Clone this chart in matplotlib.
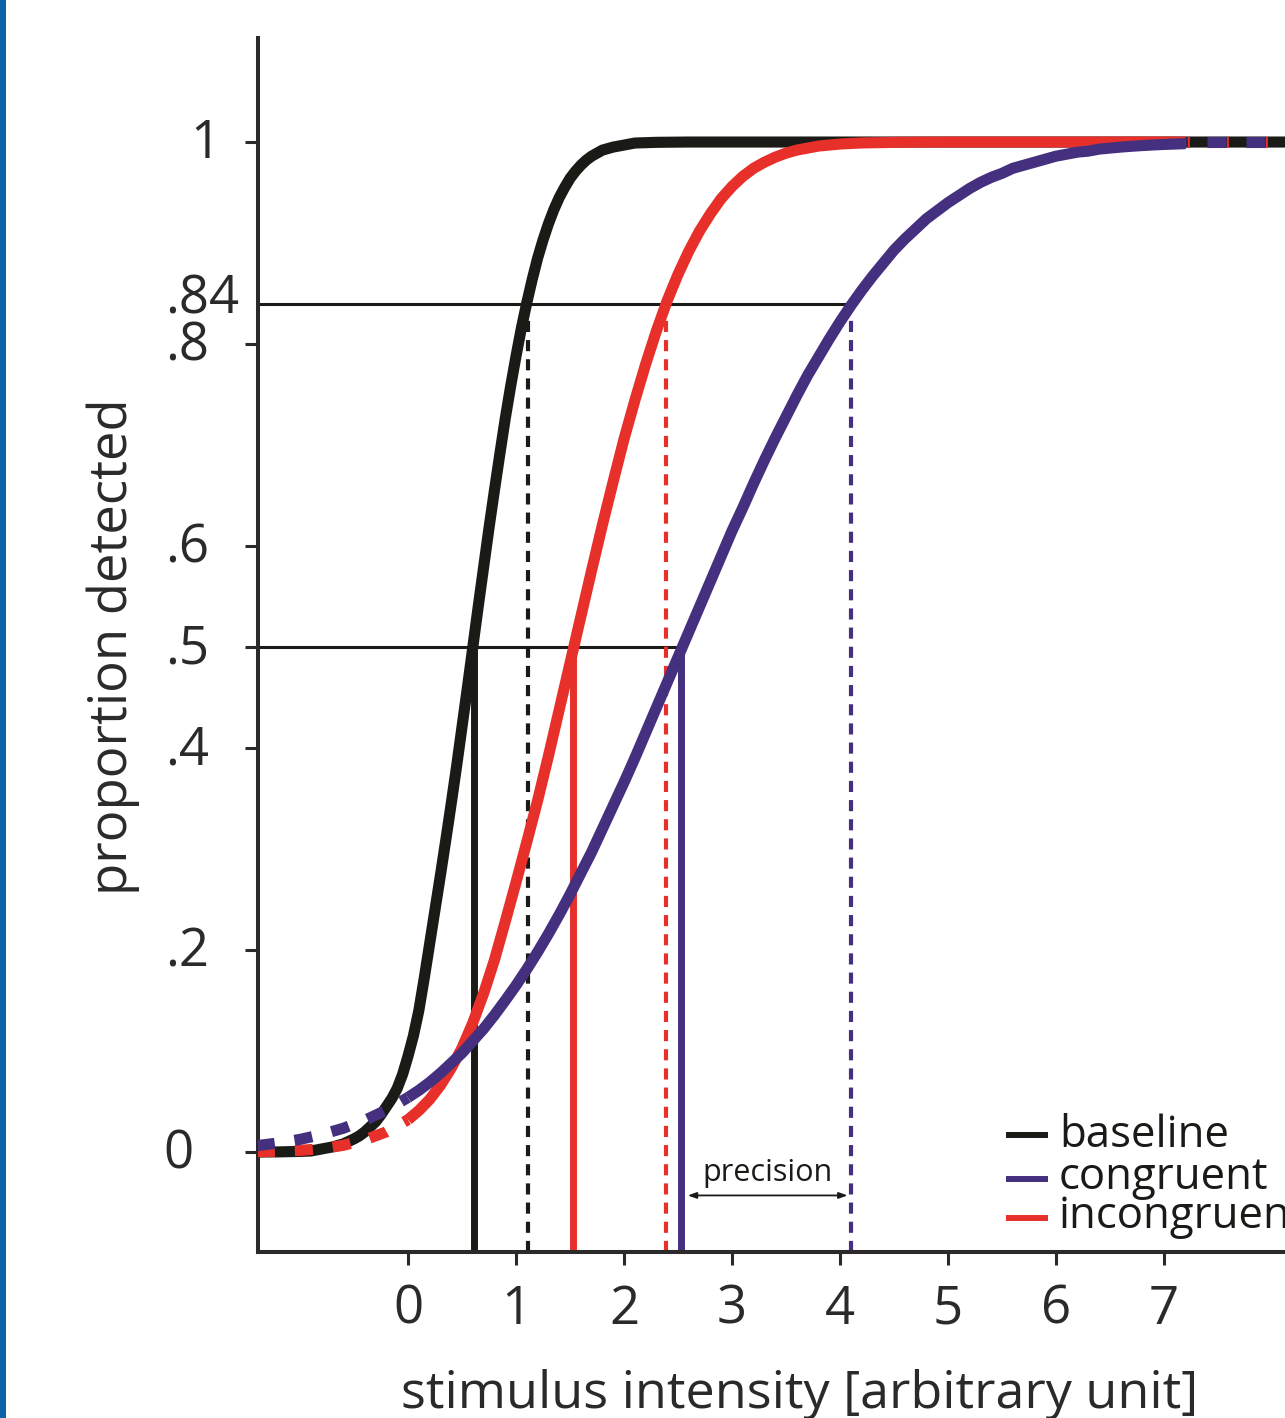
import matplotlib.pyplot as plt
from matplotlib.lines import Line2D
from matplotlib.patches import Rectangle

plt.rcParams['font.family'] = ['Open Sans', 'DejaVu Sans']
plt.rcParams['lines.scale_dashes'] = False

# Psychometric curves
black_x = [-1.4, -1.2, -1.0, -0.9, -0.8, -0.7, -0.6, -0.5, -0.45, -0.4, -0.35,
           -0.3, -0.25, -0.2, -0.15, -0.1, -0.05, 0.0, 0.05, 0.1, 0.15, 0.2,
           0.25, 0.3, 0.35, 0.4, 0.45, 0.5, 0.55, 0.6, 0.65, 0.7, 0.75, 0.8,
           0.85, 0.9, 0.95, 1.0, 1.05, 1.1, 1.15, 1.2, 1.25, 1.3, 1.35, 1.4,
           1.45, 1.5, 1.55, 1.6, 1.65, 1.7, 1.75, 1.8, 1.9, 2.0, 2.1, 2.3,
           2.6, 8.3]
black_y = [0.0, 0.0001, 0.0006, 0.001, 0.003, 0.005, 0.008, 0.013, 0.016,
           0.020, 0.025, 0.030, 0.037, 0.045, 0.053, 0.063, 0.077, 0.095,
           0.115, 0.140, 0.172, 0.206, 0.240, 0.274, 0.309, 0.345, 0.382,
           0.421, 0.460, 0.500, 0.540, 0.579, 0.618, 0.655, 0.691, 0.726,
           0.758, 0.788, 0.816, 0.841, 0.864, 0.885, 0.903, 0.919, 0.933,
           0.945, 0.955, 0.964, 0.971, 0.977, 0.982, 0.986, 0.989, 0.992,
           0.995, 0.997, 0.999, 0.9997, 1.0, 1.0]

red_dash_x = [-1.4, -1.2, -1.0, -0.8, -0.6, -0.4, -0.2, 0.0]
red_dash_y = [0.0003, 0.0007, 0.0016, 0.0033, 0.0066, 0.012, 0.020, 0.032]
red_x = [0.0, 0.1, 0.2, 0.3, 0.4, 0.5, 0.6, 0.7, 0.8, 0.9, 1.0, 1.1, 1.2,
         1.3, 1.4, 1.5, 1.6, 1.7, 1.8, 1.9, 2.0, 2.1, 2.2, 2.3, 2.4, 2.5,
         2.6, 2.7, 2.8, 2.9, 3.0, 3.1, 3.2, 3.3, 3.4, 3.5, 3.6, 3.7, 3.8,
         3.9, 4.0, 4.2, 4.6, 5.0, 7.2]
red_y = [0.032, 0.041, 0.052, 0.066, 0.083, 0.103, 0.128, 0.157, 0.190,
         0.228, 0.267, 0.307, 0.348, 0.392, 0.438, 0.484, 0.530, 0.576,
         0.621, 0.664, 0.706, 0.744, 0.780, 0.813, 0.843, 0.869, 0.892,
         0.912, 0.929, 0.944, 0.956, 0.966, 0.974, 0.980, 0.985, 0.989,
         0.992, 0.994, 0.996, 0.997, 0.998, 0.9991, 0.9998, 1.0, 1.0]

blue_dash_x = [-1.4, -1.2, -1.0, -0.8, -0.6, -0.4, -0.2, 0.0]
blue_dash_y = [0.0063, 0.009, 0.0125, 0.0173, 0.0235, 0.0314, 0.0415, 0.054]
blue_x = [0.0, 0.1, 0.2, 0.3, 0.4, 0.5, 0.6, 0.7, 0.8, 0.9, 1.0, 1.1, 1.2,
          1.3, 1.4, 1.5, 1.6, 1.7, 1.8, 1.9, 2.0, 2.1, 2.2, 2.3, 2.4, 2.5,
          2.6, 2.7, 2.8, 2.9, 3.0, 3.1, 3.2, 3.3, 3.4, 3.5, 3.6, 3.7, 3.8,
          3.9, 4.0, 4.1, 4.2, 4.3, 4.4, 4.5, 4.6, 4.7, 4.8, 4.9, 5.0, 5.1,
          5.2, 5.3, 5.4, 5.5, 5.6, 5.7, 5.8, 5.9, 6.0, 6.1, 6.2, 6.3, 6.4,
          6.5, 6.6, 6.7, 6.8, 6.9, 7.0, 7.1, 7.2]
blue_y = [0.054, 0.061, 0.069, 0.078, 0.088, 0.098, 0.110, 0.122, 0.1355,
          0.150, 0.165, 0.181, 0.198, 0.216, 0.235, 0.255, 0.276, 0.297,
          0.320, 0.343, 0.366, 0.390, 0.415, 0.440, 0.465, 0.490, 0.515,
          0.540, 0.565, 0.590, 0.615, 0.638, 0.662, 0.685, 0.707, 0.728,
          0.749, 0.769, 0.787, 0.805, 0.822, 0.838, 0.853, 0.867, 0.880,
          0.893, 0.904, 0.914, 0.924, 0.932, 0.940, 0.947, 0.954, 0.960,
          0.965, 0.969, 0.974, 0.977, 0.980, 0.983, 0.986, 0.988, 0.990,
          0.991, 0.993, 0.994, 0.995, 0.9958, 0.9965, 0.9971, 0.9976,
          0.998, 0.9984]
tail_x = [7.2, 8.3]
tail_y = [1.0, 1.0]

# thresholds (50%) and 84% points
thresh_50 = [0.61, 1.53, 2.53]
thresh_84 = [1.11, 2.39, 4.10]
ref_levels = [0.5, 0.84]
ref_ends = [2.53, 4.10]

yticks = [0, 0.2, 0.4, 0.5, 0.6, 0.8, 0.84, 1]
ytick_labels = ['0', '.2', '.4', '.5', '.6', '.8', '.84', '1']
ytick_label_px = [163, 165, 165, 165, 165, 165, 165, 190]
ytick_label_dy = [0.004, 0.004, 0.004, 0.004, 0.004, 0.004, 0.010, 0.004]
xticks = [0, 1, 2, 3, 4, 5, 6, 7]

legend_labels = ['baseline', 'congruent', 'incongruent']

BLACK = '#1a1a17'
RED = '#e8302a'
BLUE = '#45307f'
AXC = '#2b2929'

W, H = 1285, 1418
fig = plt.figure(figsize=(W / 100, H / 100), dpi=100)
ax = fig.add_axes([258 / W, 166 / H, (W - 258) / W, (1252 - 38) / H])
ax.set_xlim(-1.389, 8.12)
ax.set_ylim(-0.099, 1.103)
ybot = -0.099

# left blue border of the panel
fig.add_artist(Rectangle((0, 0), 6 / W, 1, transform=fig.transFigure,
                         color='#0b63a8', lw=0))

# reference lines
for lvl, xe in zip(ref_levels, ref_ends):
    ax.hlines(lvl, -1.389, xe, color=BLACK, lw=2.2, zorder=2)
ax.vlines(thresh_50, ybot, 0.5, colors=[BLACK, RED, BLUE], lw=5, zorder=2)
ax.vlines(thresh_84, ybot, 0.83, colors=[BLACK, RED, BLUE], lw=3,
          linestyles=[(0, (8, 5.8))], zorder=2)

# curves
lw = 8.0
dash = (0, (13, 14.4))
kw = dict(lw=lw, solid_capstyle='butt', solid_joinstyle='round')
ax.plot(black_x, black_y, color=BLACK, zorder=3, **kw)
ax.plot(red_x, red_y, color=RED, zorder=4, **kw)
ax.plot(blue_x, blue_y, color=BLUE, zorder=5, **kw)
ax.plot(red_dash_x, red_dash_y, color=RED, lw=lw, ls=dash, zorder=4)
ax.plot(blue_dash_x, blue_dash_y, color=BLUE, lw=lw, ls=dash, zorder=5)
ax.plot(tail_x, tail_y, color=BLUE, lw=lw, ls=(13.0, (13.7, 14.4)), zorder=5)
ax.plot(tail_x, tail_y, color=RED, lw=lw, ls=(-1.0, (1.4, 26.7)), zorder=5)

# precision annotation
ax.annotate('', xy=(2.59, -0.043), xytext=(4.07, -0.043),
            arrowprops=dict(arrowstyle='<|-|>,head_length=0.5,head_width=0.18',
                            color=BLACK, lw=1.3, shrinkA=0, shrinkB=0))
ax.text((2.59 + 4.07) / 2, -0.021, 'precision', ha='center', va='center',
        fontsize=22, color=BLACK)

# axes styling
for s in ['top', 'right']:
    ax.spines[s].set_visible(False)
for s in ['left', 'bottom']:
    ax.spines[s].set_linewidth(2.9)
    ax.spines[s].set_color(AXC)

ax.set_xticks(xticks)
ax.set_xticklabels([str(t) for t in xticks], fontsize=38, color=AXC)
ax.set_yticks(yticks)
ax.set_yticklabels([])
ax.tick_params(direction='out', length=9.4, width=2.2, color=AXC)
ax.tick_params(axis='x', pad=13)
ax.yaxis.get_major_ticks()[yticks.index(0.84)].tick1line.set_visible(False)

trans = ax.get_yaxis_transform()
for v, lab, px, dy in zip(yticks, ytick_labels, ytick_label_px, ytick_label_dy):
    ax.text((px - 258) / (W - 258), v + dy, lab, transform=trans, ha='left',
            va='center_baseline', fontsize=38, color=AXC, clip_on=False)

fig.text(800 / W, (H - 1408) / H, 'stimulus intensity [arbitrary unit]',
         ha='center', va='baseline', fontsize=37.5, color=AXC)
fig.text(113 / W, 1 - 647 / H, 'proportion detected', rotation=90,
         ha='center', va='center', fontsize=38, color=AXC)

# legend
for lab, col, ly, ty in zip(legend_labels, [BLACK, BLUE, RED],
                            [1135, 1179, 1218], [1147, 1189, 1228]):
    fig.add_artist(Line2D([1009 / W, 1045 / W], [1 - ly / H, 1 - ly / H],
                          color=col, lw=4.3, transform=fig.transFigure))
    fig.text(1059 / W, 1 - ty / H, lab, ha='left', va='baseline',
             fontsize=31.5, color=BLACK)

fig.savefig('out.png', dpi=100)
